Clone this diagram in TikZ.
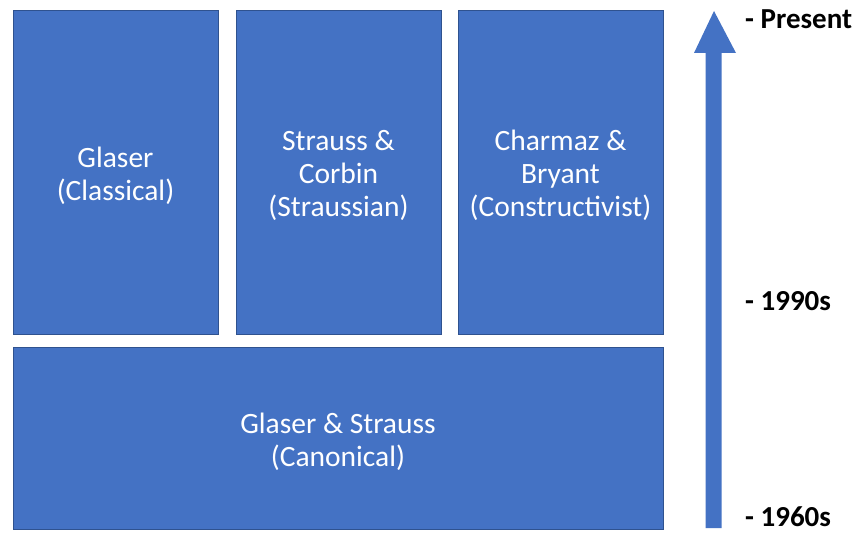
\documentclass[tikz,border=0pt]{standalone}
\usepackage{fontspec}
\setmainfont{Carlito}
\begin{document}
\begin{tikzpicture}[x=1pt,y=-1pt,
  box/.style={draw=boxline,fill=boxfill,line width=1pt,text=white,align=center,
    font=\fontsize{29.5}{33}\selectfont,inner sep=0pt},
  lab/.style={anchor=west,font=\fontsize{29}{33}\selectfont\bfseries,inner sep=0pt}]
\definecolor{boxfill}{HTML}{4472C4}
\definecolor{boxline}{HTML}{2F528F}
\useasboundingbox (0,0) rectangle (855,535);
\fill[white] (0,0) rectangle (855,535);
\draw[box] (13,11) rectangle (218,334) node[midway,yshift=-3pt] (g) {Glaser\\(Classical)};
\draw[box] (236,11) rectangle (441,334) node[midway,yshift=-3pt] (sc) {Strauss \&\\Corbin\\(Straussian)};
\draw[box] (458,11) rectangle (663,334) node[midway,yshift=-3pt] (cb) {Charmaz \&\\Bryant\\(Constructivist)};
\draw[box] (13,347) rectangle (663,529) node[midway,yshift=-4pt] (gs) {Glaser \& Strauss\\(Canonical)};
\fill[boxfill] (705.5,528) -- (705.5,53) -- (694,53) -- (714,11) -- (736,53) -- (721.5,53) -- (721.5,528) -- cycle;
\node[lab] (p) at (745,19) {- Present};
\node[lab] (n) at (745,301) {- 1990s};
\node[lab] (s) at (745,517) {- 1960s};
\end{tikzpicture}
\end{document}
